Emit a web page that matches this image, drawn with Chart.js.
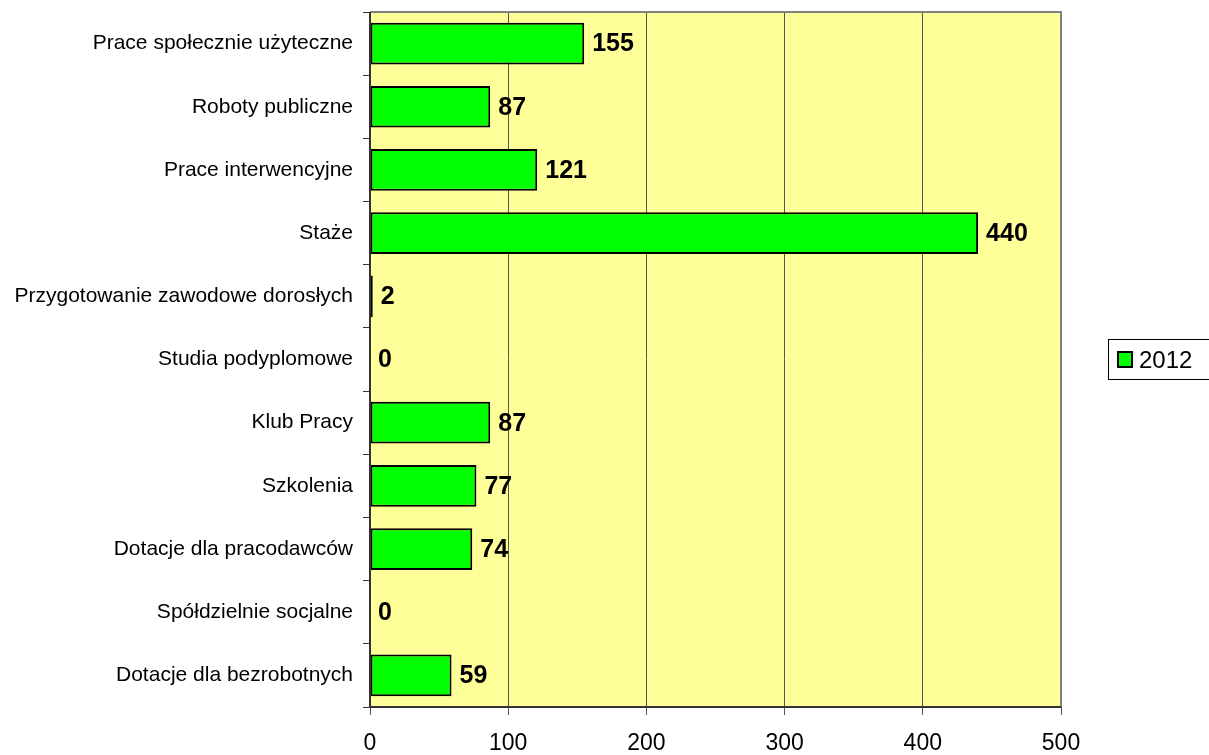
<!DOCTYPE html>
<html>
<head>
<meta charset="utf-8">
<script src="https://cdn.jsdelivr.net/npm/chart.js@4"></script>
<style>
  body { margin: 0; background: #fff; }
  #wrap { width: 1209px; height: 755px; }
</style>
</head>
<body>
<div id="wrap"><canvas id="chart" width="1209" height="755"></canvas></div>
<script>
const kategorie = [
  "Prace społecznie użyteczne",
  "Roboty publiczne",
  "Prace interwencyjne",
  "Staże",
  "Przygotowanie zawodowe dorosłych",
  "Studia podyplomowe",
  "Klub Pracy",
  "Szkolenia",
  "Dotacje dla pracodawców",
  "Spółdzielnie socjalne",
  "Dotacje dla bezrobotnych"
];
const wartosci2012 = [155, 87, 121, 440, 2, 0, 87, 77, 74, 0, 59];
const seria = "2012";
const osX = [0, 100, 200, 300, 400, 500];

const FONT = "'Liberation Sans', Arial, sans-serif";

// tło obszaru wykresu + ramka
const tloPlugin = {
  id: "tlo",
  beforeDraw(chart) {
    const { ctx, chartArea: a } = chart;
    ctx.save();
    ctx.fillStyle = "#FFFF99";
    ctx.fillRect(a.left, a.top, a.right - a.left, a.bottom - a.top);
    ctx.restore();
  },
  afterDatasetsDraw(chart) {
    const { ctx, chartArea: a } = chart;
    ctx.save();
    ctx.strokeStyle = "#808080";
    ctx.lineWidth = 2;
    ctx.beginPath();
    ctx.moveTo(a.left, a.top);
    ctx.lineTo(a.right, a.top);
    ctx.lineTo(a.right, a.bottom);
    ctx.stroke();
    ctx.strokeStyle = "#333";
    ctx.beginPath();
    ctx.moveTo(a.left, a.top);
    ctx.lineTo(a.left, a.bottom);
    ctx.lineTo(a.right, a.bottom);
    ctx.stroke();
    ctx.restore();
  }
};

// etykiety wartości
const etykietyPlugin = {
  id: "etykiety",
  afterDraw(chart) {
    const { ctx } = chart;
    const meta = chart.getDatasetMeta(0);
    ctx.save();
    ctx.font = "bold 25px " + FONT;
    ctx.fillStyle = "#000";
    ctx.textBaseline = "middle";
    ctx.textAlign = "left";
    meta.data.forEach((bar, i) => {
      ctx.fillText(String(wartosci2012[i]), bar.x + 8, bar.y + 1);
    });
    ctx.restore();
  }
};

// legenda z ramką po prawej
const legendaPlugin = {
  id: "legenda",
  afterDraw(chart) {
    const { ctx } = chart;
    ctx.save();
    ctx.fillStyle = "#fff";
    ctx.strokeStyle = "#000";
    ctx.lineWidth = 1;
    ctx.fillRect(1108.5, 339.5, 110, 40);
    ctx.strokeRect(1108.5, 339.5, 110, 40);
    ctx.fillStyle = "#00FF00";
    ctx.fillRect(1118, 352, 14, 15);
    ctx.lineWidth = 2;
    ctx.strokeRect(1118, 352, 14, 15);
    ctx.fillStyle = "#000";
    ctx.font = "24px " + FONT;
    ctx.textBaseline = "middle";
    ctx.fillText(seria, 1139, 361);
    ctx.restore();
  }
};

new Chart(document.getElementById("chart").getContext("2d"), {
  type: "bar",
  data: {
    labels: kategorie,
    datasets: [{
      label: seria,
      data: wartosci2012,
      backgroundColor: "#00FF00",
      borderColor: "#000",
      borderWidth: 2,
      borderSkipped: false,
      categoryPercentage: 1,
      barPercentage: 0.66
    }]
  },
  options: {
    indexAxis: "y",
    responsive: false,
    animation: false,
    layout: { padding: { top: 12, right: 148, left: 0, bottom: 0 } },
    plugins: {
      legend: { display: false },
      tooltip: { enabled: false }
    },
    scales: {
      x: {
        min: 0,
        max: 500,
        afterBuildTicks(scale) { scale.ticks = osX.map(v => ({ value: v })); },
        afterFit(scale) { scale.height = 48; },
        border: { display: false },
        grid: {
          color: "#555",
          lineWidth: 1,
          tickLength: 8,
          tickColor: "#555"
        },
        ticks: {
          font: { family: FONT, size: 23 },
          color: "#000",
          padding: 15,
          maxRotation: 0
        }
      },
      y: {
        afterFit(scale) {
          scale.width = 370;
          scale.paddingTop = 0;
          scale.paddingBottom = 0;
        },
        border: { display: false },
        grid: {
          drawOnChartArea: false,
          offset: true,
          tickLength: 7,
          tickColor: "#333"
        },
        ticks: {
          font: { family: FONT, size: 21 },
          color: "#000",
          padding: 10
        }
      }
    }
  },
  plugins: [tloPlugin, etykietyPlugin, legendaPlugin]
});
</script>
</body>
</html>
